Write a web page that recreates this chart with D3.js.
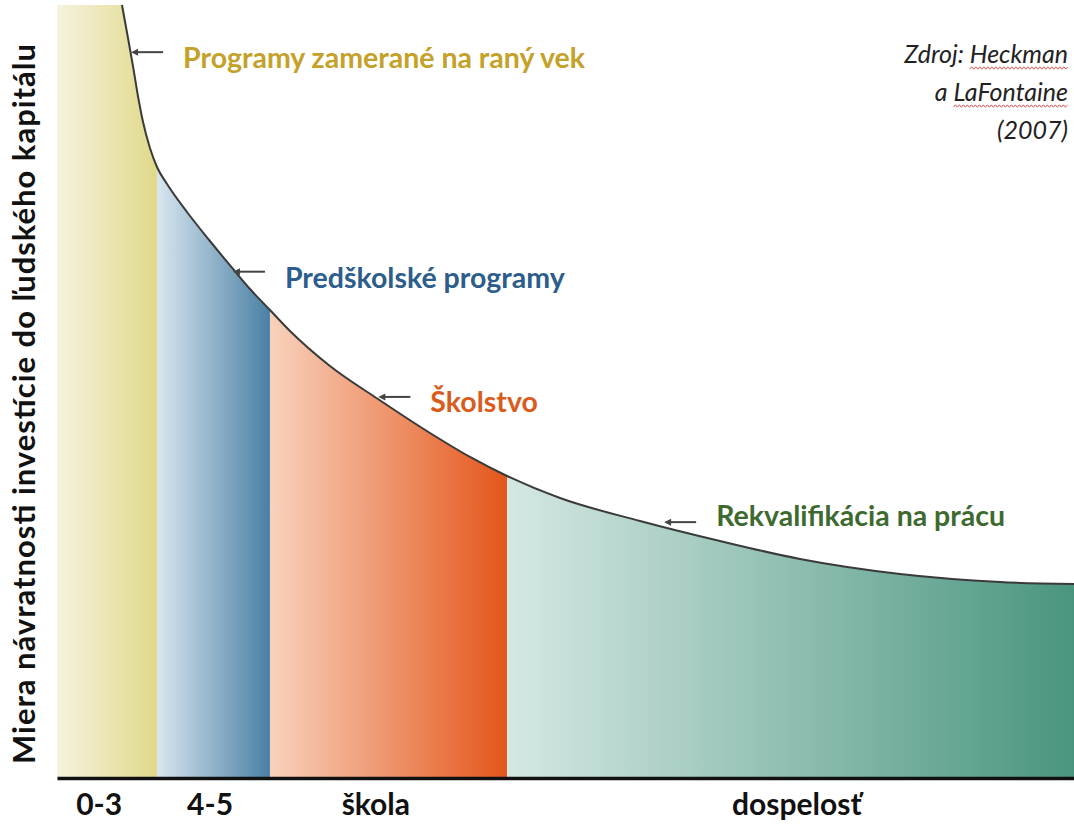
<!DOCTYPE html>
<html>
<head>
<meta charset="utf-8">
<script src="https://cdn.jsdelivr.net/npm/d3@7"></script>
<style>
  body { margin: 0; background: #fff; }
  svg { display: block; }
</style>
</head>
<body>
<svg id="chart" width="1074" height="825"></svg>
<script>
// stages along the life cycle (x axis) and where each one ends
const stages = ["0-3", "4-5", "škola", "dospelosť"];
const stageBounds = [0, 9.83, 20.94, 44.25, 100];
const tickPos = [4.1, 15.0, 31.3, 72.7];

// return curve (x = age position, y = return)
const curveX = [0, 6.39, 6.98, 7.47, 7.96, 8.46, 9.14, 9.83, 10.82, 12.78, 15.04, 17.31, 18.98, 20.94, 22.91, 26.84, 31.56, 36.68, 40.61, 44.25, 49.46, 57.33, 65.19, 73.06, 82.89, 92.72, 100];
const curveY = [100, 100, 95.73, 92.11, 88.23, 84.86, 81.50, 79.04, 76.84, 73.22, 69.47, 65.85, 63.26, 60.54, 57.83, 53.30, 49.03, 44.63, 41.53, 39.07, 36.22, 33.25, 30.66, 28.33, 26.39, 25.36, 25.10];

// annotations pointing at the curve
const noteLabels = ["Programy zamerané na raný vek", "Predškolské programy", "Školstvo", "Rekvalifikácia na prácu"];
const noteX = [7.28, 17.3, 31.6, 59.7];
const noteY = [93.9, 65.5, 49.3, 33.1];

const sourceLines = ["Zdroj: Heckman", "a LaFontaine", "(2007)"];
const yTitle = "Miera návratnosti investície do ľudského kapitálu";

// styles
const stageColorsFrom = ["#f6f2de", "#d8e6ef", "#f8d2bd", "#d5e8e3"];
const stageColorsTo = ["#e0d98a", "#4a80a4", "#e4561a", "#4a9580"];
const noteColors = ["#c4a128", "#2c5d8c", "#d95c1c", "#3e6a2f"];
const noteDy = [16, 16, 15, 4];

const width = 1074, height = 825;
const margin = { top: 5, right: 0, bottom: 47, left: 57 };
const font = "Lato, 'Open Sans', sans-serif";

const svg = d3.select("#chart");

const x = d3.scaleLinear()
  .domain([0, 100])
  .range([margin.left, width - margin.right]);

const y = d3.scaleLinear()
  .domain([0, 100])
  .range([height - margin.bottom, margin.top]);

const pts = curveX.map((v, i) => [v, curveY[i]]);

const defs = svg.append("defs");

stages.forEach((s, i) => {
  const g = defs.append("linearGradient")
    .attr("id", "grad" + i)
    .attr("x1", "0%").attr("x2", "100%")
    .attr("y1", "0%").attr("y2", "0%");
  g.append("stop").attr("offset", "0%").attr("stop-color", stageColorsFrom[i]);
  g.append("stop").attr("offset", "100%").attr("stop-color", stageColorsTo[i]);
});

const area = d3.area()
  .x(d => x(d[0]))
  .y0(y(0))
  .y1(d => y(d[1]))
  .curve(d3.curveMonotoneX);

defs.append("clipPath")
  .attr("id", "under-curve")
  .append("path")
  .attr("d", area(pts));

// coloured stage bands, clipped under the curve
svg.append("g")
  .attr("clip-path", "url(#under-curve)")
  .selectAll("rect")
  .data(stages)
  .join("rect")
  .attr("x", (d, i) => x(stageBounds[i]))
  .attr("width", (d, i) => x(stageBounds[i + 1]) - x(stageBounds[i]))
  .attr("y", y(100))
  .attr("height", y(0) - y(100))
  .attr("fill", (d, i) => `url(#grad${i})`);

// the curve itself (not drawn over the flat top of the first band)
const line = d3.line()
  .x(d => x(d[0]))
  .y(d => y(d[1]))
  .curve(d3.curveMonotoneX);

svg.append("path")
  .attr("d", line(pts.slice(1)))
  .attr("fill", "none")
  .attr("stroke", "#3a3a3a")
  .attr("stroke-width", 2);

// x axis
const xAxis = svg.append("g")
  .attr("transform", `translate(0,${y(0)})`)
  .call(d3.axisBottom(x)
    .tickValues(tickPos)
    .tickFormat((d, i) => stages[i])
    .tickSize(0)
    .tickSizeOuter(0)
    .tickPadding(16));

xAxis.select(".domain")
  .attr("stroke", "#111")
  .attr("stroke-width", 3.5);

xAxis.selectAll("text")
  .attr("font-family", font)
  .attr("font-weight", "bold")
  .attr("font-size", 30)
  .attr("fill", "#111")
  .attr("dy", "0.71em");

// y axis title
svg.append("text")
  .attr("transform", "translate(35,404) rotate(-90)")
  .attr("text-anchor", "middle")
  .attr("font-family", font)
  .attr("font-weight", "bold")
  .attr("font-size", 31)
  .attr("textLength", 720)
  .attr("lengthAdjust", "spacing")
  .attr("fill", "#111")
  .text(yTitle);

// annotations with little arrows
const notes = svg.append("g")
  .selectAll("g")
  .data(noteLabels)
  .join("g")
  .attr("transform", (d, i) => `translate(${x(noteX[i])},${y(noteY[i])})`);

notes.append("line")
  .attr("x1", 3).attr("x2", 32)
  .attr("y1", 0).attr("y2", 0)
  .attr("stroke", "#444")
  .attr("stroke-width", 2);

notes.append("path")
  .attr("d", "M0,0 L7,-3.5 L7,3.5 Z")
  .attr("fill", "#444");

notes.append("text")
  .attr("x", 52)
  .attr("y", (d, i) => noteDy[i])
  .attr("font-family", font)
  .attr("font-weight", "bold")
  .attr("font-size", 28.5)
  .attr("fill", (d, i) => noteColors[i])
  .text(d => d);

// source, top right, with spell-check squiggles
const src = svg.append("g");
sourceLines.forEach((t, i) => {
  const by = 63 + i * 38;
  const txt = src.append("text")
    .attr("x", 1068)
    .attr("y", by)
    .attr("text-anchor", "end")
    .attr("font-family", font)
    .attr("font-style", "italic")
    .attr("font-size", 25)
    .attr("fill", "#222")
    .text(t);

  const word = t.match(/Heckman|LaFontaine/);
  if (word) {
    const node = txt.node();
    const start = node.getStartPositionOfChar(word.index).x;
    const len = node.getSubStringLength(word.index, word[0].length);
    const zig = [];
    for (let px = 0; px <= len; px += 2) zig.push([start + px, by + 5 + ((px / 2) % 2 ? -1.2 : 1.2)]);
    src.append("path")
      .attr("d", d3.line()(zig))
      .attr("fill", "none")
      .attr("stroke", "#d9534f")
      .attr("stroke-width", 1);
  }
});
</script>
</body>
</html>
